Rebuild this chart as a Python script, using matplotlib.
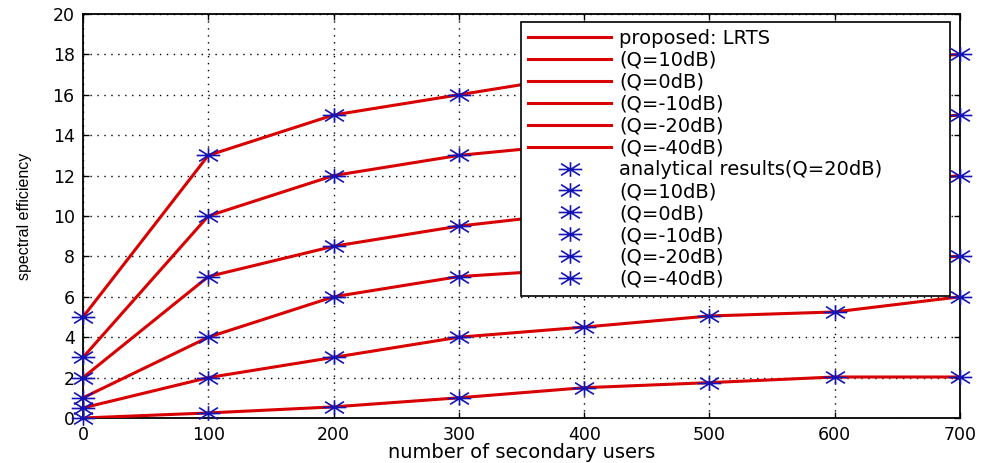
import matplotlib
matplotlib.use("Agg")
import matplotlib.pyplot as plt
from matplotlib.path import Path

# Number of secondary users
users = [0, 100, 200, 300, 400, 500, 600, 700]

# Spectral efficiency of the proposed LRTS scheme for each interference level Q
se_q20 = [5, 13, 15, 16, 17, 17.3, 17.6, 18]
se_q10 = [3, 10, 12, 13, 13.6, 14.1, 14.5, 15]
se_q0 = [2, 7, 8.5, 9.5, 10.2, 10.8, 11.4, 12]
se_qm10 = [1, 4, 6, 7, 7.4, 7.6, 7.8, 8]
se_qm20 = [0.5, 2, 3, 4, 4.5, 5.05, 5.25, 6]
se_qm40 = [0, 0.25, 0.55, 1, 1.5, 1.75, 2.03, 2.03]

sim_labels = ["proposed: LRTS", "(Q=10dB)", "(Q=0dB)", "(Q=-10dB)", "(Q=-20dB)", "(Q=-40dB)"]
ana_labels = ["analytical results(Q=20dB)", "(Q=10dB)", "(Q=0dB)", "(Q=-10dB)", "(Q=-20dB)", "(Q=-40dB)"]

x_ticks = [0, 100, 200, 300, 400, 500, 600, 700]
y_ticks = [0, 2, 4, 6, 8, 10, 12, 14, 16, 18, 20]

series = [se_q20, se_q10, se_q0, se_qm10, se_qm20, se_qm40]

plt.rcParams["font.family"] = ["DejaVu Sans"]

# Eight-armed asterisk, a little wider than tall
w, h = 1.0, 0.62
star_path = Path(
    [(-w, 0), (w, 0), (0, -h), (0, h),
     (-0.8 * w, -0.8 * h), (0.8 * w, 0.8 * h),
     (-0.8 * w, 0.8 * h), (0.8 * w, -0.8 * h)],
    [Path.MOVETO, Path.LINETO] * 4,
)

fig = plt.figure(figsize=(9.84, 4.63), dpi=100)
ax = fig.add_axes([83 / 984, 45 / 463, 877 / 984, 404 / 463])

red = "#d80000"
blue = "#1414b4"

line_handles = []
for ys, lab in zip(series, sim_labels):
    hnd, = ax.plot(users, ys, color=red, lw=2.2, label=lab, zorder=3)
    line_handles.append(hnd)

marker_handles = []
for ys, lab in zip(series, ana_labels):
    hnd, = ax.plot(users, ys, linestyle="none", marker=star_path, markersize=17,
                   markeredgewidth=1.2, color=blue, label=lab, zorder=4, clip_on=False)
    marker_handles.append(hnd)

ax.set_xlim(0, 700)
ax.set_ylim(0, 20)
ax.set_xticks(x_ticks)
ax.set_yticks(y_ticks)
ax.tick_params(direction="in", length=4, width=1, top=True, right=True,
               labelsize=12.5, pad=6, colors="black")
for sp in ax.spines.values():
    sp.set_linewidth(1.3)
    sp.set_color("black")

ax.grid(True, color="black", linestyle=(0, (1, 4)), linewidth=1)

ax.set_xlabel("number of secondary users", fontsize=14)
ax.xaxis.set_label_coords(0.5, -0.063)
ax.xaxis.label.set_va("top")
ax.set_ylabel("spectral efficiency", fontsize=11.5,
              family=["Liberation Sans", "DejaVu Sans"])
ax.yaxis.set_label_coords(-0.058, 0.5)

leg = fig.legend(line_handles + marker_handles, sim_labels + ana_labels,
                 loc="upper left",
                 bbox_to_anchor=(521 / 984, 170 / 463, 429 / 984, 271 / 463),
                 mode="expand", borderaxespad=0, numpoints=1,
                 fontsize=14, handlelength=4.3, handletextpad=0.4,
                 labelspacing=0.15, borderpad=0.35, fancybox=False,
                 framealpha=1, edgecolor="black")
leg.get_frame().set_linewidth(1.2)
leg.set_zorder(10)

fig.savefig("out.png", dpi=100)
